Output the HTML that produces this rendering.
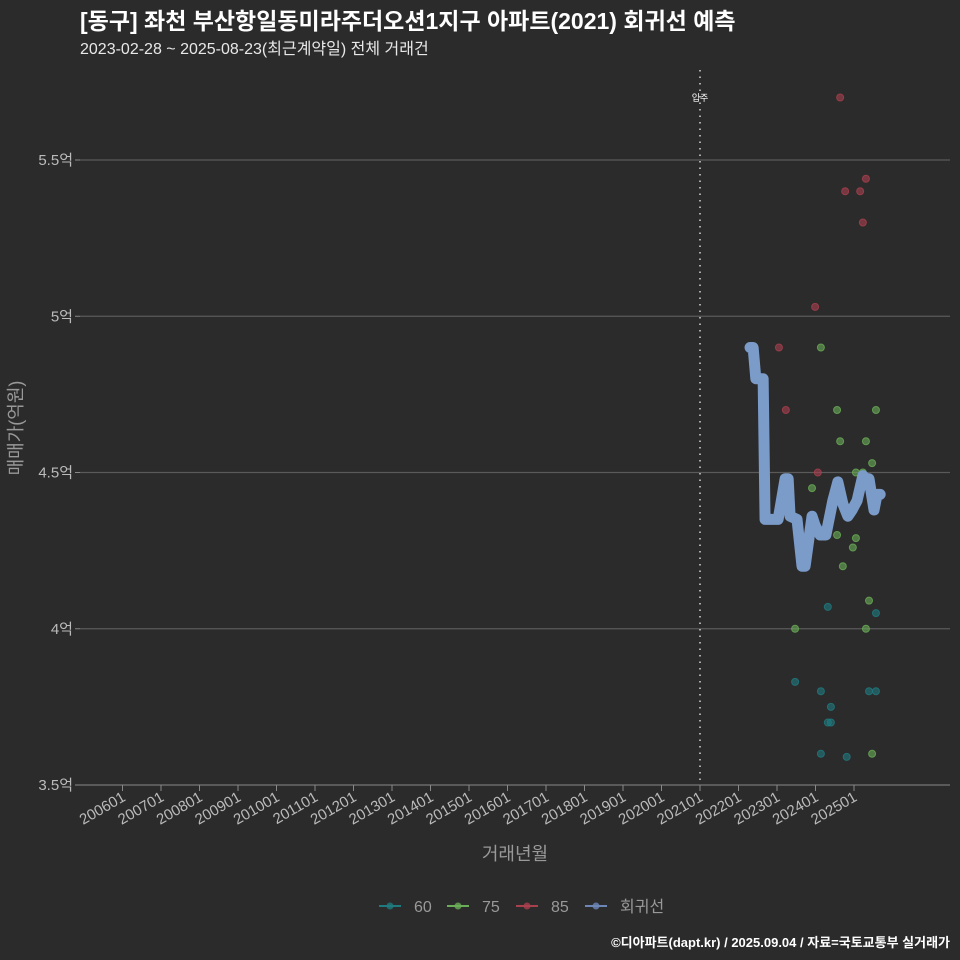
<!DOCTYPE html>
<html><head><meta charset="utf-8">
<style>
html,body{margin:0;padding:0;background:#2b2b2b;}
svg{display:block;font-family:"Liberation Sans","Noto Sans CJK KR",sans-serif;}
</style></head>
<body>
<svg id="chart" width="960" height="960" viewBox="0 0 960 960" xmlns="http://www.w3.org/2000/svg">
<rect width="960" height="960" fill="#2b2b2b"/>
<text x="80" y="29" fill="#ffffff" font-size="23" font-weight="bold">[동구] 좌천 부산항일동미라주더오션1지구 아파트(2021) 회귀선 예측</text>
<text x="80" y="54" fill="#e8e8e8" font-size="16">2023-02-28 ~ 2025-08-23(최근계약일) 전체 거래건</text>
<g id="grid"></g>
<g id="axes"></g>
<g id="marks"></g>
<text transform="translate(22,428) rotate(-90)" text-anchor="middle" fill="#999" font-size="18">매매가(억원)</text>
<text x="515" y="860" text-anchor="middle" fill="#999" font-size="18">거래년월</text>
<g id="legend"></g>
<text x="950" y="947" text-anchor="end" fill="#ffffff" font-size="13" font-weight="bold">©디아파트(dapt.kr) / 2025.09.04 / 자료=국토교통부 실거래가</text>
</svg>
<script>
const yTicks = [3.5, 4, 4.5, 5, 5.5];
const yTickLabels = ["3.5억", "4억", "4.5억", "5억", "5.5억"];
const xTickYears = [2006,2007,2008,2009,2010,2011,2012,2013,2014,2015,2016,2017,2018,2019,2020,2021,2022,2023,2024,2025];
const moveInYear = 2021;
const t60 = [2024.32,2025.57,2023.47,2024.14,2025.39,2025.57,2024.40,2024.32,2024.40,2024.14,2024.81];
const v60 = [4.07,4.05,3.83,3.80,3.80,3.80,3.75,3.70,3.70,3.60,3.59];
const t75 = [2024.14,2024.56,2025.57,2024.64,2025.31,2025.47,2025.05,2025.23,2023.91,2024.56,2025.05,2024.97,2024.71,2025.39,2023.47,2025.31,2025.47];
const v75 = [4.90,4.70,4.70,4.60,4.60,4.53,4.50,4.50,4.45,4.30,4.29,4.26,4.20,4.09,4.00,4.00,3.60];
const t85 = [2024.64,2024.77,2025.16,2025.31,2025.23,2023.99,2023.05,2023.23,2024.06];
const v85 = [5.70,5.40,5.40,5.44,5.30,5.03,4.90,4.70,4.50];
const tReg = [2022.30,2022.38,2022.45,2022.64,2022.69,2023.03,2023.21,2023.29,2023.34,2023.52,2023.65,2023.73,2023.91,2023.99,2024.12,2024.27,2024.45,2024.58,2024.71,2024.84,2024.95,2025.08,2025.23,2025.31,2025.39,2025.52,2025.60,2025.68];
const vReg = [4.90,4.90,4.80,4.80,4.35,4.35,4.48,4.48,4.36,4.35,4.20,4.20,4.36,4.33,4.30,4.30,4.41,4.47,4.40,4.36,4.38,4.41,4.49,4.48,4.48,4.38,4.43,4.43];

const NS = "http://www.w3.org/2000/svg";
function xs(t){ return 700 + (t - 2021) * 38.5; }
function ys(v){ return 785 - (v - 3.5) * 312.5; }
function mk(tag, attrs, parent){ const e = document.createElementNS(NS, tag); for (const k in attrs) e.setAttribute(k, attrs[k]); parent.appendChild(e); return e; }

const grid = document.getElementById('grid');
const axes = document.getElementById('axes');
const marks = document.getElementById('marks');
yTicks.forEach((v, i) => {
  const l = mk('line', {x1:80, x2:950, y1:ys(v), y2:ys(v), stroke: i===0 ? '#777' : '#5a5a5a', 'stroke-width':1.2}, grid);
  
  
  const tk = mk('line', {x1:75, x2:80, y1:ys(v), y2:ys(v), stroke:'#888'}, axes);
  
  
  const tx = mk('text', {x:73, y:ys(v)+5, 'text-anchor':'end', fill:'#bbb', 'font-size':15}, axes);
  tx.textContent = yTickLabels[i];
  
  
});
xTickYears.forEach(y => {
  const x = xs(y);
  const tk = mk('line', {x1:x, x2:x, y1:785, y2:791, stroke:'#888'}, axes);
  
  
  const tx = mk('text', {x:x+4, y:800, 'text-anchor':'end', fill:'#bbb', 'font-size':15, transform:'rotate(-30 '+(x+4)+' 800)'}, axes);
  tx.textContent = y + '01';
  
  
});
const mv = mk('line', {x1:xs(moveInYear), x2:xs(moveInYear), y1:70, y2:785, stroke:'#ccc', 'stroke-width':1.6, 'stroke-dasharray':'1.5 5'}, marks);


const mvt = mk('text', {x:xs(moveInYear), y:101, 'text-anchor':'middle', fill:'#fff', 'font-size':9}, marks);
mvt.textContent = '입주';



function pts(ts, vs, color, name){
  ts.forEach((t, i) => {
    const c = mk('circle', {cx:xs(t), cy:ys(vs[i]), r:3.5, fill:color, 'fill-opacity':0.6, stroke:color, 'stroke-opacity':0.8}, marks);
    
    
  });
}
pts(t60, v60, '#1f7a80', 'point-60');
pts(t75, v75, '#6aad58', 'point-75');
pts(t85, v85, '#a8404e', 'point-85');
const reg = mk('polyline', {points: tReg.map((t, i) => xs(t)+','+ys(vReg[i])).join(' '), fill:'none', stroke:'#7b9bc9', 'stroke-width':11, 'stroke-linejoin':'round', 'stroke-linecap':'round'}, marks);



const legend = document.getElementById('legend');
const legItems = [['60','#1f7a80'],['75','#6aad58'],['85','#a8404e'],['회귀선','#6d86b8']];
const legX = [379, 447, 516, 585];
legItems.forEach((it, i) => {
  const g = mk('g', {}, legend);
  
  
  mk('line', {x1:legX[i], x2:legX[i]+22, y1:906, y2:906, stroke:it[1], 'stroke-width':2}, g);
  mk('circle', {cx:legX[i]+11, cy:906, r:3.5, fill:it[1], 'fill-opacity':0.8}, g);
  const t = mk('text', {x:legX[i]+35, y:912, fill:'#999', 'font-size':16}, g);
  t.textContent = it[0];
});
</script>
</body></html>
